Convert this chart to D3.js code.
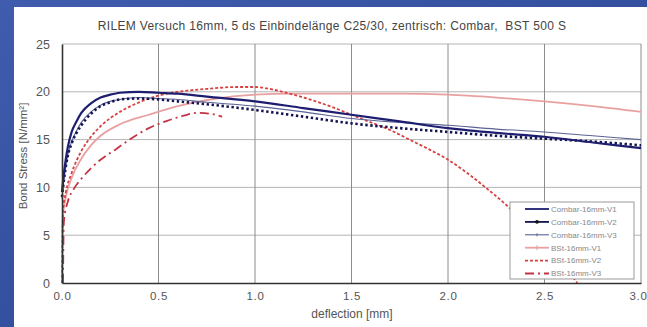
<!DOCTYPE html>
<html><head><meta charset="utf-8">
<script src="https://cdn.jsdelivr.net/npm/d3@7"></script>
<style>body{margin:0;padding:0;overflow:hidden}svg{display:block}</style>
</head><body>
<script>
// ---- data ----
const titleText = "RILEM Versuch 16mm, 5 ds Einbindelänge C25/30, zentrisch: Combar,  BST 500 S";
const xLabel = "deflection [mm]";
const yLabel = "Bond Stress [N/mm²]";
const xTicks = [0, 0.5, 1.0, 1.5, 2.0, 2.5, 3.0];
const xTickLabels = ["0.0", "0.5", "1.0", "1.5", "2.0", "2.5", "3.0"];
const yTicks = [0, 5, 10, 15, 20, 25];
const seriesNames = ["Combar-16mm-V1", "Combar-16mm-V2", "Combar-16mm-V3", "BSt-16mm-V1", "BSt-16mm-V2", "BSt-16mm-V3"];

const combarDefl = [0, 0.01, 0.02, 0.03, 0.05, 0.075, 0.1, 0.15, 0.2, 0.25, 0.3, 0.4, 0.5, 0.6, 0.75, 1.0, 1.25, 1.5, 1.75, 2.0, 2.25, 2.5, 2.75, 3.0];
const combarV1 = [9.5, 11.5, 13.0, 14.2, 15.8, 16.9, 17.8, 18.8, 19.4, 19.7, 19.9, 20.0, 19.9, 19.8, 19.5, 19.0, 18.3, 17.6, 16.9, 16.2, 15.7, 15.3, 14.7, 14.1];
const combarV2 = [9.0, 10.8, 12.2, 13.3, 14.6, 15.7, 16.5, 17.7, 18.5, 18.9, 19.2, 19.3, 19.2, 19.0, 18.7, 18.1, 17.4, 16.7, 16.2, 15.8, 15.4, 15.1, 14.8, 14.4];
const combarV3 = [8.8, 10.8, 12.3, 13.4, 14.8, 15.9, 16.8, 17.9, 18.6, 19.0, 19.2, 19.4, 19.3, 19.2, 18.9, 18.5, 17.9, 17.2, 16.8, 16.5, 16.1, 15.8, 15.4, 15.0];

const bst1Defl = [0, 0.005, 0.02, 0.05, 0.1, 0.15, 0.2, 0.3, 0.45, 0.6, 0.8, 1.0, 1.2, 1.5, 1.75, 2.0, 2.25, 2.5, 2.75, 3.0];
const bst1 = [0, 7.0, 9.0, 11.0, 13.0, 14.4, 15.4, 16.6, 17.6, 18.5, 19.3, 19.7, 19.8, 19.8, 19.8, 19.7, 19.4, 19.0, 18.5, 17.9];

const bst2Defl = [0, 0.005, 0.02, 0.05, 0.1, 0.15, 0.2, 0.3, 0.4, 0.5, 0.6, 0.75, 0.9, 1.0, 1.1, 1.2, 1.3, 1.4, 1.5, 1.6, 1.7, 1.8, 1.9, 2.0, 2.1, 2.2, 2.3, 2.4, 2.5, 2.6, 2.67];
const bst2 = [0, 7.5, 9.5, 11.5, 13.8, 15.3, 16.4, 17.9, 18.9, 19.6, 20.0, 20.3, 20.5, 20.5, 20.2, 19.7, 19.1, 18.4, 17.6, 16.8, 16.0, 15.0, 14.0, 12.9, 11.5, 9.9, 8.2, 6.2, 4.1, 1.8, 0];

const bst3Defl = [0.005, 0.01, 0.03, 0.06, 0.1, 0.15, 0.2, 0.28, 0.35, 0.45, 0.55, 0.63, 0.7, 0.77, 0.83];
const bst3 = [0, 6.5, 8.5, 9.8, 10.9, 12.0, 12.9, 14.0, 15.0, 16.2, 17.0, 17.5, 17.8, 17.7, 17.4];

// ---- layout ----
const W = 647, H = 327;
const FONT = "Arial, Liberation Sans, sans-serif";
const svg = d3.select("body").append("svg").attr("width", W).attr("height", H);
const defs = svg.append("defs");
const grad = defs.append("linearGradient").attr("id", "bg").attr("x1", 0).attr("y1", 0).attr("x2", 1).attr("y2", 1);
grad.append("stop").attr("offset", "0%").attr("stop-color", "#3f5cae");
grad.append("stop").attr("offset", "100%").attr("stop-color", "#284390");
svg.append("rect").attr("width", W).attr("height", H).attr("fill", "url(#bg)");
svg.append("rect").attr("x", 14).attr("y", 7).attr("width", W - 14).attr("height", H - 7).attr("fill", "#fff");

const x = d3.scaleLinear().domain([0, 3]).range([62, 641]);
const y = d3.scaleLinear().domain([0, 25]).range([283, 44]);

const g = svg.append("g");
// grid
g.selectAll(".hg").data(yTicks.filter(v => v > 0)).enter().append("line")
  .attr("x1", x(0)).attr("x2", x(3)).attr("y1", d => y(d)).attr("y2", d => y(d))
  .attr("stroke", "#b4b4b4").attr("stroke-width", 1);
g.selectAll(".vg").data(xTicks.filter(v => v > 0)).enter().append("line")
  .attr("x1", d => x(d)).attr("x2", d => x(d)).attr("y1", y(0)).attr("y2", y(25))
  .attr("stroke", "#8c8c8c").attr("stroke-width", 1);

// axes
const xAxis = d3.axisBottom(x).tickValues(xTicks).tickFormat((d, i) => xTickLabels[i]).tickSize(0).tickPadding(9);
const yAxis = d3.axisLeft(y).tickValues(yTicks).tickSize(0).tickPadding(12);
const gx = svg.append("g").attr("transform", `translate(0,${y(0)})`).call(xAxis);
const gy = svg.append("g").attr("transform", `translate(${x(0)},0)`).call(yAxis);
gx.select(".domain").attr("stroke", "#333").attr("stroke-width", 1.6);
gy.select(".domain").attr("stroke", "#333").attr("stroke-width", 1.6);
gx.selectAll("text").attr("font-family", FONT).attr("font-size", 11.5)
  .attr("fill", "#555").attr("letter-spacing", 0.7);
gx.selectAll(".tick").filter(d => d === 3).select("text").attr("text-anchor", "end").attr("dx", 6);
gy.selectAll("text").attr("font-family", FONT).attr("font-size", 12.5)
  .attr("fill", "#555");

// titles
svg.append("text").attr("x", 332).attr("y", 30).attr("text-anchor", "middle")
  .attr("font-family", FONT).attr("font-size", 12).attr("letter-spacing", 0.35).attr("fill", "#444")
  .style("white-space", "pre")
  .text(titleText);
svg.append("text").attr("x", 352).attr("y", 318).attr("text-anchor", "middle")
  .attr("font-family", FONT).attr("font-size", 12).attr("fill", "#555")
  .text(xLabel);
svg.append("text").attr("transform", "translate(27,156) rotate(-90)").attr("text-anchor", "middle")
  .attr("font-family", FONT).attr("font-size", 11.5).attr("fill", "#555")
  .text(yLabel);

// series
const styles = [
  {color: "#1e1e70", width: 2.2, dash: null},
  {color: "#141450", width: 2.6, dash: "2.4,2.6"},
  {color: "#5a6296", width: 1.1, dash: null},
  {color: "#e8a0a0", width: 1.8, dash: null},
  {color: "#d84040", width: 1.8, dash: "3,2"},
  {color: "#c43444", width: 1.8, dash: "9,4,2,4"}
];
const seriesData = [
  combarDefl.map((d, i) => [d, combarV1[i]]),
  combarDefl.map((d, i) => [d, combarV2[i]]),
  combarDefl.map((d, i) => [d, combarV3[i]]),
  bst1Defl.map((d, i) => [d, bst1[i]]),
  bst2Defl.map((d, i) => [d, bst2[i]]),
  bst3Defl.map((d, i) => [d, bst3[i]])
];
const line = d3.line().x(d => x(d[0])).y(d => y(d[1])).curve(d3.curveMonotoneX);
const drawOrder = [3, 5, 4, 2, 1, 0];
drawOrder.forEach(i => {
  const s = styles[i];
  g.append("path").datum(seriesData[i]).attr("d", line).attr("fill", "none")
    .attr("stroke", s.color).attr("stroke-width", s.width)
    .attr("stroke-dasharray", s.dash).attr("stroke-linejoin", "round");
});

// legend
const lg = svg.append("g");
lg.append("rect").attr("x", 510).attr("y", 202).attr("width", 124).attr("height", 77)
  .attr("fill", "#fff").attr("stroke", "#999").attr("stroke-width", 1);
seriesNames.forEach((name, i) => {
  const ly = 209 + i * 12.9;
  const s = styles[i];
  lg.append("line").attr("x1", 525).attr("x2", 549).attr("y1", ly).attr("y2", ly)
    .attr("stroke", s.color).attr("stroke-width", Math.min(s.width, 1.8))
    .attr("stroke-dasharray", s.dash ? (i === 1 ? null : s.dash) : null);
  if (i === 1) lg.append("circle").attr("cx", 537).attr("cy", ly).attr("r", 1.8).attr("fill", "#111");
  if (i === 2) lg.append("line").attr("x1", 537).attr("x2", 537).attr("y1", ly - 1.5).attr("y2", ly + 1.5).attr("stroke", s.color);
  if (i === 3) lg.append("line").attr("x1", 537).attr("x2", 537).attr("y1", ly - 2.5).attr("y2", ly + 2.5).attr("stroke", s.color);
  lg.append("text").attr("x", 551).attr("y", ly + 2.8)
    .attr("font-family", FONT).attr("font-size", 8).attr("fill", "#888")
    .text(name);
});
</script>
</body></html>
